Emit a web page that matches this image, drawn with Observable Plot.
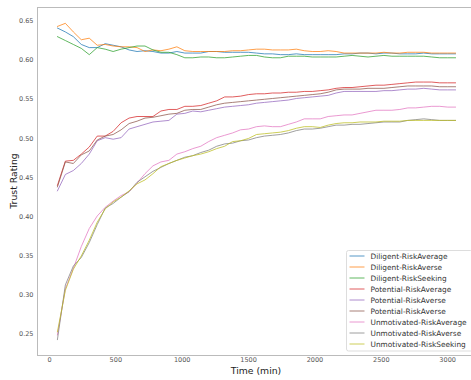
<!DOCTYPE html>
<html><head><meta charset="utf-8">
<script src="https://cdn.jsdelivr.net/npm/d3@7"></script>
<script src="https://cdn.jsdelivr.net/npm/@observablehq/plot@0.6"></script>
<style>
body{margin:0;background:#fff;}
#chart{width:471px;height:380px;overflow:hidden;}
</style></head><body><div id="chart"></div>
<script>
const times = [60,120,180,240,300,360,420,480,540,600,660,720,780,840,900,960,1020,1080,1140,1200,1260,1320,1380,1440,1500,1560,1620,1680,1740,1800,1860,1920,1980,2040,2100,2160,2220,2280,2340,2400,2460,2520,2580,2640,2700,2760,2820,2880,2940,3000,3060];

const seriesNames = ["Diligent-RiskAverage","Diligent-RiskAverse","Diligent-RiskSeeking","Potential-RiskAverage","Potential-RiskAverse","Potential-RiskAverse","Unmotivated-RiskAverage","Unmotivated-RiskAverse","Unmotivated-RiskSeeking"];
const seriesColors = ["#1f77b4","#ff7f0e","#2ca02c","#d62728","#9467bd","#8c564b","#e377c2","#7f7f7f","#bcbd22"];

const diligentRiskAverage = [.641,.636,.630,.620,.616,.616,.621,.619,.617,.613,.611,.612,.611,.609,.609,.611,.609,.609,.609,.611,.611,.610,.610,.610,.610,.609,.608,.608,.607,.607,.608,.607,.607,.607,.607,.607,.608,.608,.609,.609,.608,.609,.609,.608,.608,.608,.609,.608,.608,.608,.608];
const diligentRiskAverse = [.643,.647,.636,.626,.628,.619,.620,.618,.617,.617,.616,.611,.613,.612,.614,.617,.612,.611,.611,.611,.611,.611,.612,.612,.613,.614,.614,.613,.613,.613,.614,.612,.611,.611,.612,.611,.609,.609,.609,.609,.609,.610,.609,.609,.610,.610,.610,.609,.609,.609,.609];
const diligentRiskSeeking = [.630,.625,.620,.615,.607,.616,.614,.611,.614,.616,.618,.618,.613,.610,.610,.607,.603,.603,.604,.604,.603,.603,.604,.605,.606,.606,.604,.603,.603,.605,.605,.605,.604,.604,.604,.604,.605,.606,.605,.604,.605,.606,.605,.605,.605,.605,.605,.604,.603,.603,.603];
const potentialRiskAverage = [.440,.471,.472,.480,.489,.503,.503,.509,.520,.526,.528,.528,.528,.535,.537,.537,.541,.541,.542,.545,.548,.553,.553,.554,.556,.557,.557,.558,.558,.559,.559,.560,.560,.561,.562,.564,.565,.565,.566,.567,.568,.568,.569,.570,.571,.572,.572,.572,.571,.571,.571];
const potentialRiskAverse = [.433,.454,.459,.468,.480,.497,.501,.499,.501,.512,.515,.518,.521,.522,.523,.531,.532,.535,.534,.536,.538,.540,.541,.542,.543,.545,.546,.547,.548,.549,.551,.552,.553,.554,.555,.558,.560,.560,.560,.560,.560,.561,.561,.562,.563,.563,.564,.563,.562,.562,.562];
const potentialRiskAverse2 = [.438,.470,.468,.479,.484,.498,.503,.505,.511,.519,.522,.526,.527,.529,.531,.532,.536,.537,.537,.540,.543,.545,.546,.547,.548,.549,.550,.551,.552,.553,.554,.555,.556,.557,.559,.562,.563,.563,.563,.564,.564,.564,.565,.566,.567,.567,.567,.567,.566,.566,.566];
const unmotivatedRiskAverage = [.249,.308,.334,.362,.385,.401,.412,.420,.427,.432,.443,.455,.465,.470,.472,.480,.483,.487,.490,.496,.501,.504,.507,.511,.512,.515,.516,.515,.515,.518,.521,.525,.525,.525,.528,.529,.530,.530,.532,.534,.536,.536,.536,.537,.539,.539,.540,.541,.541,.540,.540];
const unmotivatedRiskAverse = [.243,.313,.337,.348,.367,.390,.411,.417,.425,.432,.444,.451,.458,.463,.468,.472,.476,.478,.482,.485,.490,.493,.494,.497,.498,.501,.503,.504,.505,.507,.510,.512,.512,.513,.515,.517,.517,.518,.518,.519,.520,.521,.521,.521,.523,.524,.525,.524,.523,.523,.523];
const unmotivatedRiskSeeking = [.253,.306,.333,.350,.370,.393,.410,.419,.425,.433,.442,.447,.455,.464,.468,.472,.475,.478,.480,.483,.487,.490,.496,.497,.500,.505,.506,.507,.508,.510,.513,.515,.515,.514,.517,.519,.520,.520,.521,.521,.521,.522,.522,.522,.523,.523,.523,.523,.523,.523,.523];

const seriesValues = [diligentRiskAverage, diligentRiskAverse, diligentRiskSeeking, potentialRiskAverage, potentialRiskAverse, potentialRiskAverse2, unmotivatedRiskAverage, unmotivatedRiskAverse, unmotivatedRiskSeeking];

const xTicks = [0,500,1000,1500,2000,2500,3000];
const yTicks = [0.25,0.30,0.35,0.40,0.45,0.50,0.55,0.60,0.65];

const W = 471, H = 380;
const mL = 37, mT = 7, mB = 25, mR = -4;

const allV = seriesValues.flat();
const vMin = d3.min(allV), vMax = d3.max(allV);
const vPad = (vMax - vMin) * 0.05;
const tMin = d3.min(times), tMax = d3.max(times);
const tPad = (tMax - tMin) * 0.05;

const lineMarks = seriesValues.map((vals, i) =>
  Plot.line(times.map((t, j) => ({t, v: vals[j]})), {x: "t", y: "v", stroke: seriesColors[i], strokeWidth: 1, strokeOpacity: 0.75})
);

const plot = Plot.plot({
  width: W, height: H,
  marginLeft: mL, marginTop: mT, marginBottom: mB, marginRight: mR,
  style: {fontFamily: "DejaVu Sans, sans-serif", fontSize: "6.5px", color: "#555", background: "#fff", overflow: "hidden"},
  x: {domain: [tMin - tPad, tMax + tPad], ticks: xTicks, tickFormat: "d", tickSize: 0, tickPadding: 2, label: null},
  y: {domain: [vMin - vPad, vMax + vPad], ticks: yTicks, tickFormat: ".2f", tickSize: 0, tickPadding: 4, label: null},
  marks: [
    Plot.frame({stroke: "#bbb", strokeWidth: 1}),
    ...lineMarks
  ]
});

const svg = d3.select(plot);
svg.attr("overflow", "hidden");

// axis titles
svg.append("text").attr("x", 256).attr("y", 373.5).attr("text-anchor", "middle")
  .style("font-family", "DejaVu Sans, sans-serif").style("font-size", "9.3px").attr("fill", "#222")
  .text("Time (min)");
svg.append("text").attr("transform", "translate(17,181) rotate(-90)").attr("text-anchor", "middle")
  .style("font-family", "DejaVu Sans, sans-serif").style("font-size", "9.3px").attr("fill", "#222")
  .text("Trust Rating");

// legend
const lg = svg.append("g");
lg.append("rect").attr("x", 346.5).attr("y", 250.5).attr("width", 126).attr("height", 100.5)
  .attr("rx", 2).attr("fill", "#fff").attr("fill-opacity", 0.8).attr("stroke", "#ddd");
seriesNames.forEach((name, i) => {
  const cy = 256 + i * 11;
  lg.append("line").attr("x1", 349.5).attr("x2", 364.5).attr("y1", cy).attr("y2", cy)
    .attr("stroke", seriesColors[i]).attr("stroke-opacity", 0.75).attr("stroke-width", 1);
  lg.append("text").attr("x", 370.5).attr("y", cy).attr("dy", "0.35em").attr("text-anchor", "start")
    .style("text-anchor", "start")
    .style("font-family", "DejaVu Sans, sans-serif").style("font-size", "7.4px").attr("fill", "#333")
    .text(name);
});

document.getElementById("chart").appendChild(plot);
</script>
</body></html>
